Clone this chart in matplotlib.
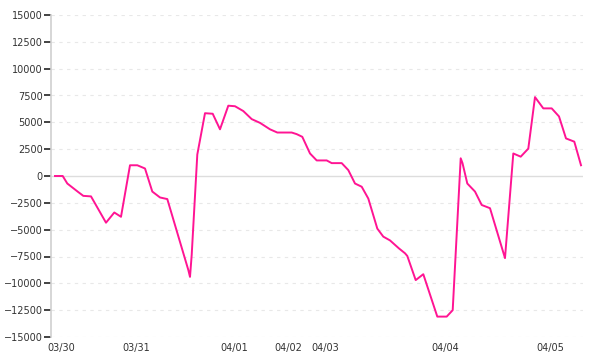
import matplotlib
matplotlib.use("Agg")
import matplotlib.pyplot as plt
import numpy as np

# time position along the session axis (arbitrary units) and value
t = [4, 11.7, 16.3, 27.3, 32.3, 40, 55, 63.3, 70, 79, 86.3, 94, 101.3, 109,
     116.3, 137.3, 139, 140.7, 146.3, 154, 161.7, 169, 177.3, 184, 192.3,
     200.7, 209, 219, 226.3, 240.7, 245.7, 251.3, 259, 265.7, 275.7, 280.7,
     290.7, 297.3, 304, 310.7, 317.3, 326.3, 332.3, 339, 348, 354, 356.3,
     364.7, 372.3, 386.3, 395.7, 401.7, 409.7, 411.5, 416.3, 424, 430.7,
     439, 454, 462.3, 469.7, 477.3, 484, 492.3, 500.7, 508, 515, 523.3, 530]
values = [0, 0, -700, -1500, -1850, -1900, -4350, -3400, -3800, 1000, 1000,
          700, -1450, -2000, -2150, -8750, -9400, -7350, 2000, 5850, 5800,
          4350, 6550, 6500, 6050, 5300, 4950, 4350, 4050, 4050, 3900, 3650,
          2100, 1450, 1450, 1200, 1200, 550, -700, -1000, -2100, -4900, -5650,
          -6000, -6750, -7200, -7450, -9700, -9150, -13100, -13100, -12500,
          1650, 1200, -700, -1450, -2700, -3000, -7650, 2100, 1800, 2550,
          7350, 6300, 6300, 5550, 3500, 3200, 1000]

day_pos = [10.5, 85, 183, 237, 274.5, 394.5, 499.5]
day_labels = ['03/30', '03/31', '04/01', '04/02', '04/03', '04/04', '04/05']
y_ticks = np.arange(-15000, 15001, 2500)

fig = plt.figure(figsize=(6, 3.6), dpi=100)
ax = fig.add_axes([51 / 600, 1 - 337 / 360, 532 / 600, 322 / 360])

ax.plot(t, values, color='#ff1493', lw=1.4, zorder=3)
ax.axhline(0, color='#dddddd', lw=1, zorder=1)

ax.set_xlim(0, 532)
ax.set_ylim(-15000, 15000)
ax.set_yticks(y_ticks)
ax.set_yticklabels([str(v).replace('-', '\u2212') for v in y_ticks])
ax.set_xticks(day_pos)
ax.set_xticklabels(day_labels)

for v in y_ticks:
    if v != 0:
        ax.axhline(v, color='#e8e8e8', lw=0.8, ls=(0, (3, 4)), zorder=0)

for s in ['top', 'right', 'bottom']:
    ax.spines[s].set_visible(False)
ax.spines['left'].set_color('#d0d0d0')
ax.spines['left'].set_linewidth(1.2)

ax.tick_params(axis='y', which='major', direction='out', length=5, width=1.2,
               colors='#222222', pad=1, labelsize=7, labelcolor='#333333')
ax.tick_params(axis='x', length=0, pad=4, labelsize=7, labelcolor='#333333')

fig.savefig('out.png', dpi=100)
